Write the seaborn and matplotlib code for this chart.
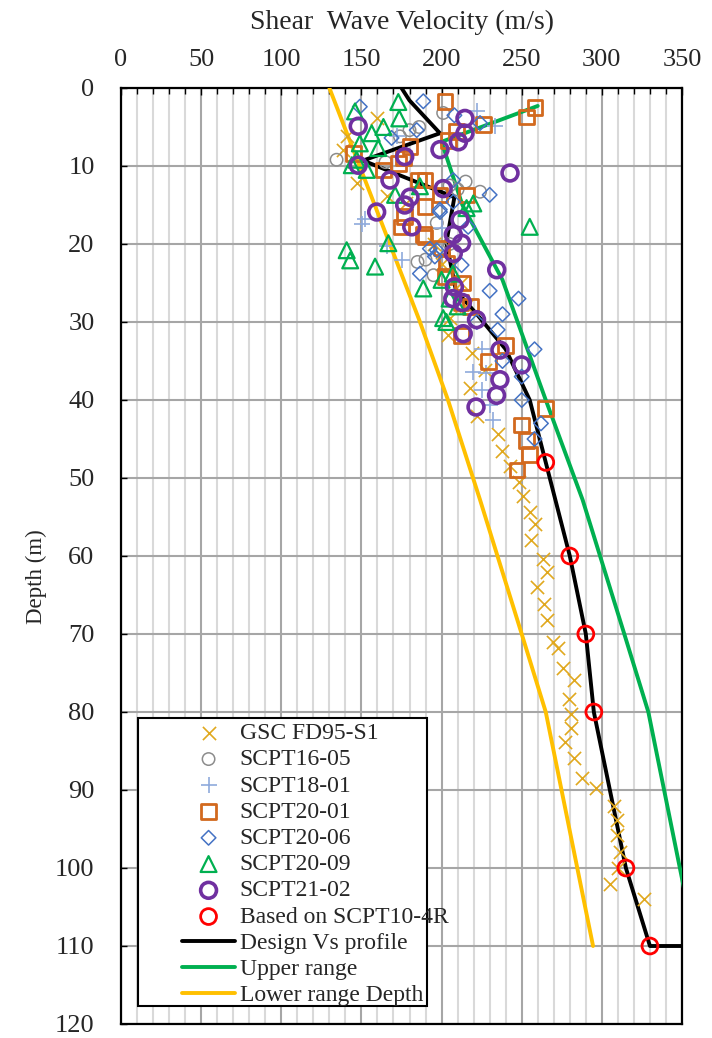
import numpy as np
import pandas as pd
import matplotlib
matplotlib.use("Agg")
import matplotlib.pyplot as plt
import seaborn as sns
from matplotlib.ticker import MultipleLocator
from matplotlib.patches import Rectangle

# ---------------- data ----------------
gsc_v = [159.5, 140.8, 138.6, 147, 165.7, 178, 195, 200, 212, 215, 205,
         204, 218.8, 227, 217.7, 221.9, 235, 238, 243, 248, 251, 255, 258, 256,
         263.5, 265.5, 259.3, 264, 266, 269.3, 272.8, 276, 282.6, 279.7, 280.5,
         281, 277, 282.6, 287.4, 296.3, 307.8, 309.2, 309.2, 311.3, 310.3, 305, 326.4]
gsc_d = [3.9, 6.2, 8.0, 12.2, 13.9, 14.8, 20, 22.5, 25, 28, 29.5,
         31.7, 34.0, 36.2, 38.5, 42.1, 44.3, 46.5, 48.5, 50.5, 52.3, 54.3, 55.9, 57.9,
         60.4, 62.0, 64.0, 66.2, 68.2, 71.0, 71.8, 74.4, 75.9, 78.3, 80.2,
         82.1, 83.8, 85.9, 88.4, 89.8, 92.1, 93.8, 95.8, 98.0, 100.0, 102.0, 104.0]

s1605_v = [201, 180, 174, 186, 134.5, 165, 224, 205, 210, 197, 200, 205, 190, 185, 195, 215]
s1605_d = [3.2, 5.4, 6.2, 5.0, 9.2, 9.5, 13.3, 12.5, 13.0, 17.3, 20.5, 20.0, 22.0, 22.3, 24.0, 12.0]

s1801_v = [150.3, 152, 165.8, 175.1, 172, 221.8, 233.3, 225, 219.9, 225, 230.2, 232.3, 228, 200]
s1801_d = [17.4, 16.8, 20.3, 22.1, 6.2, 3.0, 4.9, 33.4, 36.4, 38.7, 40.6, 42.6, 36.5, 18.0]

s2001_v = [258.3, 253, 226, 202.1, 204.2, 209.4, 215.6, 189.6, 189.6, 188.6, 202.1,
           180.3, 176.2, 144.9, 163.6, 173, 185.5, 177, 175, 199, 189.6,
           200, 203, 213, 212, 218, 212.5, 229.2, 240, 265, 250, 253, 255, 247]
s2001_d = [2.5, 3.7, 4.7, 1.7, 6.7, 5.6, 13.7, 11.8, 15.2, 18.8, 24.2,
           7.5, 9.0, 8.4, 10.5, 9.7, 11.8, 16.5, 17.8, 13.7, 19.1,
           20.5, 22.5, 25.0, 27.5, 28.0, 31.7, 35.1, 33.0, 41.1, 43.2, 45.2, 47.0, 49.0]

s2006_v = [149, 188.6, 208, 168.8, 184.5, 224, 207.3, 230, 216.6, 199, 207.3, 212.5, 197,
           186.5, 198.9, 192.7, 195.8, 230, 248, 238, 222, 235, 258, 238, 250, 250, 262, 258]
s2006_d = [2.4, 1.7, 3.5, 6.4, 5.4, 4.5, 11.8, 13.7, 17.8, 15.9, 14.6, 22.7, 20.8,
           23.8, 15.6, 20.6, 21.6, 26.0, 27.0, 29.0, 30.0, 31.0, 33.5, 35.0, 37.0, 40.0, 43.0, 45.0]

s2009_v = [146, 173, 173.6, 163.7, 156.4, 149, 160.5, 147, 144, 153.3, 171, 186.5, 140.8,
           143, 158.5, 166.8, 188.6, 200, 201, 255, 219.8, 215.6, 207, 205, 210, 203]
s2009_d = [3.0, 1.8, 3.9, 5.0, 5.8, 7.1, 7.7, 9.2, 9.9, 10.5, 13.7, 12.6, 20.8,
           22.1, 22.9, 19.9, 25.7, 24.6, 29.5, 17.8, 14.8, 15.4, 23.8, 27.0, 28.0, 30.0]

s2102_v = [148, 148, 177, 167.8, 180.3, 177, 159.5, 181.4, 199, 201, 214.6, 214.6, 210.5,
           211.5, 207.3, 212.5, 207.3, 242.7, 234.4, 208, 207, 213, 221.8, 213.5,
           236.4, 250, 236.4, 234.3, 221.5]
s2102_d = [4.9, 9.9, 8.8, 11.8, 14.0, 15.0, 15.9, 17.8, 7.9, 12.9, 3.9, 5.8, 6.9,
           16.9, 18.8, 19.9, 21.2, 10.9, 23.3, 25.5, 27.0, 27.5, 29.7, 31.5,
           33.6, 35.5, 37.4, 39.4, 40.9]

scpt10_v = [265, 280, 290, 295, 315, 330]
scpt10_d = [48, 60, 70, 80, 100, 110]

design_v = [175, 180, 199, 151, 208, 203, 209, 222, 240, 255, 265, 280, 290, 295, 305, 315, 330, 360]
design_d = [0, 1.6, 5.8, 9.3, 14, 19.8, 26, 29, 33.5, 40, 48, 60, 70, 80, 90, 100, 110, 110]

upper_v = [260, 200, 213, 238, 265, 288, 314, 329, 358.5]
upper_d = [2.3, 6.9, 15, 24.6, 40, 52.8, 70, 80, 110]

lower_v = [130, 186, 204, 224, 250, 265, 294.5]
lower_d = [0, 29.7, 40, 52.8, 70, 80, 110]

# ---------------- style ----------------
sns.set_theme(style="white")
plt.rcParams['font.family'] = ['Liberation Serif', 'DejaVu Serif']
plt.rcParams['axes.edgecolor'] = 'black'

W, H = 712, 1038
fig = plt.figure(figsize=(W / 100, H / 100), dpi=100)
ax = fig.add_axes([121 / W, 1 - 1024 / H, (682 - 121) / W, (1024 - 88) / H])

lw_line = 2.8
sns.lineplot(x=design_v, y=design_d, sort=False, estimator=None, color='black',
             lw=lw_line, ax=ax, label='Design Vs profile', zorder=3)
sns.lineplot(x=upper_v, y=upper_d, sort=False, estimator=None, color='#00B050',
             lw=lw_line, ax=ax, label='Upper range', zorder=3)
sns.lineplot(x=lower_v, y=lower_d, sort=False, estimator=None, color='#FFC000',
             lw=lw_line, ax=ax, label='Lower range Depth', zorder=3)

series = [
    ("GSC FD95-S1", gsc_v, gsc_d, 'x', '#E0A81E', 90, 1.2, False),
    ("SCPT16-05", s1605_v, s1605_d, 'o', '#8C8C8C', 80, 1.1, True),
    ("SCPT18-01", s1801_v, s1801_d, '+', '#8FAADC', 120, 1.2, False),
    ("SCPT20-01", s2001_v, s2001_d, 's', '#D2691E', 110, 2.0, True),
    ("SCPT20-06", s2006_v, s2006_d, 'D', '#4472C4', 55, 1.1, True),
    ("SCPT20-09", s2009_v, s2009_d, '^', '#00B050', 130, 1.6, True),
    ("SCPT21-02", s2102_v, s2102_d, 'o', '#7030A0', 130, 2.6, True),
    ("Based on SCPT10-4R", scpt10_v, scpt10_d, 'o', '#FF0000', 130, 2.0, True),
]
for name, xv, yv, mk, col, s, lw, hollow in series:
    sns.scatterplot(x=xv, y=yv, marker=mk, s=s, color=col, ax=ax, label=name,
                    zorder=4, linewidth=lw)
    coll = ax.collections[-1]
    if hollow:
        coll.set_facecolor('none')
    coll.set_edgecolor(col)
    coll.set_linewidth(lw)

ax.set_xlim(0, 350)
ax.set_ylim(120, 0)
ax.xaxis.tick_top()
ax.xaxis.set_label_position('top')
ax.xaxis.set_major_locator(MultipleLocator(50))
ax.xaxis.set_minor_locator(MultipleLocator(10))
ax.yaxis.set_major_locator(MultipleLocator(10))
ax.grid(which='major', axis='x', color='#A6A6A6', lw=1.5, zorder=0)
ax.grid(which='minor', axis='x', color='#D9D9D9', lw=1.5, zorder=0)
ax.grid(which='major', axis='y', color='#A6A6A6', lw=1.5, zorder=0)
ax.set_axisbelow(True)
ax.tick_params(axis='x', which='both', direction='in', top=True, bottom=False,
               length=4, width=1, color='black', labelsize=19, pad=12)
ax.tick_params(axis='x', which='major', length=5)
ax.tick_params(axis='y', which='major', direction='in', left=True, length=4, width=1,
               color='black', labelsize=19, pad=19)
for sp in ax.spines.values():
    sp.set_visible(True)
    sp.set_color('black')
    sp.set_linewidth(1.6)

ax.set_xlabel('Shear  Wave Velocity (m/s)', fontsize=20)
ax.xaxis.set_label_coords(0.5, 1 + (88 - 29) / 936)
ax.set_ylabel('Depth (m)', fontsize=16.5)
ax.yaxis.set_label_coords((47 - 121) / 561, (1024 - 577) / 936)

# legend frame (Excel-like padding) + legend entries
ax.add_patch(Rectangle(((138 - 121) / 561, (1024 - 1006) / 936),
                       (427 - 138) / 561, (1006 - 718) / 936,
                       transform=ax.transAxes, facecolor='white', edgecolor='black',
                       lw=1.5, zorder=9))

handles, labels = ax.get_legend_handles_labels()
order = ["GSC FD95-S1", "SCPT16-05", "SCPT18-01", "SCPT20-01", "SCPT20-06",
         "SCPT20-09", "SCPT21-02", "Based on SCPT10-4R",
         "Design Vs profile", "Upper range", "Lower range Depth"]
hmap = dict(zip(labels, handles))
leg = ax.legend([hmap[o] for o in order], order, loc='lower left',
                bbox_to_anchor=((182 - 121) / 561, (1024 - 1006.5) / 936),
                fontsize=17, frameon=False,
                handlelength=2.25, handletextpad=0.2, labelspacing=0.2,
                borderpad=0, borderaxespad=0)
leg.set_zorder(10)

fig.savefig('out.png', dpi=100)
